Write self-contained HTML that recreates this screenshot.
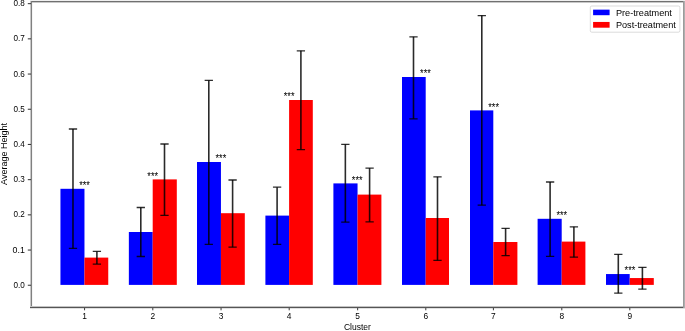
<!DOCTYPE html>
<html><head><meta charset="utf-8"><style>
html,body{margin:0;padding:0;background:#fff;overflow:hidden;}
svg{display:block;will-change:transform;}
text{font-family:"Liberation Sans", sans-serif;fill:#000;}
</style></head><body>
<svg width="685" height="331" viewBox="0 0 685 331">
<rect x="0" y="0" width="685" height="331" fill="#fff"/>
<rect x="60.45" y="188.80" width="24.02" height="96.10" fill="#0000ff"/>
<rect x="84.47" y="257.60" width="23.78" height="27.30" fill="#ff0000"/>
<rect x="128.85" y="232.00" width="23.85" height="52.90" fill="#0000ff"/>
<rect x="152.70" y="179.40" width="24.10" height="105.50" fill="#ff0000"/>
<rect x="197.00" y="162.00" width="23.95" height="122.90" fill="#0000ff"/>
<rect x="220.95" y="213.20" width="23.85" height="71.70" fill="#ff0000"/>
<rect x="265.40" y="215.60" width="23.70" height="69.30" fill="#0000ff"/>
<rect x="289.10" y="100.00" width="23.70" height="184.90" fill="#ff0000"/>
<rect x="333.40" y="183.40" width="24.15" height="101.50" fill="#0000ff"/>
<rect x="357.55" y="194.60" width="23.85" height="90.30" fill="#ff0000"/>
<rect x="402.00" y="77.00" width="23.70" height="207.90" fill="#0000ff"/>
<rect x="425.70" y="218.00" width="23.30" height="66.90" fill="#ff0000"/>
<rect x="470.00" y="110.40" width="23.30" height="174.50" fill="#0000ff"/>
<rect x="493.30" y="242.00" width="24.10" height="42.90" fill="#ff0000"/>
<rect x="537.60" y="218.80" width="24.10" height="66.10" fill="#0000ff"/>
<rect x="561.70" y="241.60" width="23.70" height="43.30" fill="#ff0000"/>
<rect x="606.00" y="274.05" width="23.70" height="10.85" fill="#0000ff"/>
<rect x="629.70" y="278.05" width="24.10" height="6.85" fill="#ff0000"/>
<path d="M72.98 129.00V248.40" stroke="#000" stroke-opacity="0.835" stroke-width="1.6" fill="none"/>
<path d="M68.83 129.00H77.13M68.83 248.40H77.13" stroke="#000" stroke-opacity="0.82" stroke-width="1.3" fill="none"/>
<path d="M96.90 251.40V264.10" stroke="#000" stroke-opacity="0.835" stroke-width="1.6" fill="none"/>
<path d="M92.75 251.40H101.05M92.75 264.10H101.05" stroke="#000" stroke-opacity="0.82" stroke-width="1.3" fill="none"/>
<path d="M140.80 207.50V256.50" stroke="#000" stroke-opacity="0.835" stroke-width="1.6" fill="none"/>
<path d="M136.65 207.50H144.95M136.65 256.50H144.95" stroke="#000" stroke-opacity="0.82" stroke-width="1.3" fill="none"/>
<path d="M164.50 144.00V215.30" stroke="#000" stroke-opacity="0.835" stroke-width="1.6" fill="none"/>
<path d="M160.35 144.00H168.65M160.35 215.30H168.65" stroke="#000" stroke-opacity="0.82" stroke-width="1.3" fill="none"/>
<path d="M208.80 80.40V244.40" stroke="#000" stroke-opacity="0.835" stroke-width="1.6" fill="none"/>
<path d="M204.65 80.40H212.95M204.65 244.40H212.95" stroke="#000" stroke-opacity="0.82" stroke-width="1.3" fill="none"/>
<path d="M232.60 180.00V247.20" stroke="#000" stroke-opacity="0.835" stroke-width="1.6" fill="none"/>
<path d="M228.45 180.00H236.75M228.45 247.20H236.75" stroke="#000" stroke-opacity="0.82" stroke-width="1.3" fill="none"/>
<path d="M277.10 187.20V244.40" stroke="#000" stroke-opacity="0.835" stroke-width="1.6" fill="none"/>
<path d="M272.95 187.20H281.25M272.95 244.40H281.25" stroke="#000" stroke-opacity="0.82" stroke-width="1.3" fill="none"/>
<path d="M300.90 50.80V149.60" stroke="#000" stroke-opacity="0.835" stroke-width="1.6" fill="none"/>
<path d="M296.75 50.80H305.05M296.75 149.60H305.05" stroke="#000" stroke-opacity="0.82" stroke-width="1.3" fill="none"/>
<path d="M345.35 144.40V222.10" stroke="#000" stroke-opacity="0.835" stroke-width="1.6" fill="none"/>
<path d="M341.20 144.40H349.50M341.20 222.10H349.50" stroke="#000" stroke-opacity="0.82" stroke-width="1.3" fill="none"/>
<path d="M369.60 168.10V221.80" stroke="#000" stroke-opacity="0.835" stroke-width="1.6" fill="none"/>
<path d="M365.45 168.10H373.75M365.45 221.80H373.75" stroke="#000" stroke-opacity="0.82" stroke-width="1.3" fill="none"/>
<path d="M413.50 36.80V118.80" stroke="#000" stroke-opacity="0.835" stroke-width="1.6" fill="none"/>
<path d="M409.35 36.80H417.65M409.35 118.80H417.65" stroke="#000" stroke-opacity="0.82" stroke-width="1.3" fill="none"/>
<path d="M437.50 176.80V260.40" stroke="#000" stroke-opacity="0.835" stroke-width="1.6" fill="none"/>
<path d="M433.35 176.80H441.65M433.35 260.40H441.65" stroke="#000" stroke-opacity="0.82" stroke-width="1.3" fill="none"/>
<path d="M481.80 15.60V205.20" stroke="#000" stroke-opacity="0.835" stroke-width="1.6" fill="none"/>
<path d="M477.65 15.60H485.95M477.65 205.20H485.95" stroke="#000" stroke-opacity="0.82" stroke-width="1.3" fill="none"/>
<path d="M505.60 228.40V255.60" stroke="#000" stroke-opacity="0.835" stroke-width="1.6" fill="none"/>
<path d="M501.45 228.40H509.75M501.45 255.60H509.75" stroke="#000" stroke-opacity="0.82" stroke-width="1.3" fill="none"/>
<path d="M550.10 182.00V256.40" stroke="#000" stroke-opacity="0.835" stroke-width="1.6" fill="none"/>
<path d="M545.95 182.00H554.25M545.95 256.40H554.25" stroke="#000" stroke-opacity="0.82" stroke-width="1.3" fill="none"/>
<path d="M573.90 226.80V257.20" stroke="#000" stroke-opacity="0.835" stroke-width="1.6" fill="none"/>
<path d="M569.75 226.80H578.05M569.75 257.20H578.05" stroke="#000" stroke-opacity="0.82" stroke-width="1.3" fill="none"/>
<path d="M618.30 254.40V293.20" stroke="#000" stroke-opacity="0.835" stroke-width="1.6" fill="none"/>
<path d="M614.15 254.40H622.45M614.15 293.20H622.45" stroke="#000" stroke-opacity="0.82" stroke-width="1.3" fill="none"/>
<path d="M642.40 267.40V289.20" stroke="#000" stroke-opacity="0.835" stroke-width="1.6" fill="none"/>
<path d="M638.25 267.40H646.55M638.25 289.20H646.55" stroke="#000" stroke-opacity="0.82" stroke-width="1.3" fill="none"/>
<text x="84.55" y="189" font-size="10.3" text-anchor="middle" textLength="10.8" lengthAdjust="spacingAndGlyphs">***</text>
<text x="152.73" y="180" font-size="10.3" text-anchor="middle" textLength="10.8" lengthAdjust="spacingAndGlyphs">***</text>
<text x="220.91" y="162" font-size="10.3" text-anchor="middle" textLength="10.8" lengthAdjust="spacingAndGlyphs">***</text>
<text x="289.09" y="100" font-size="10.3" text-anchor="middle" textLength="10.8" lengthAdjust="spacingAndGlyphs">***</text>
<text x="357.27" y="184" font-size="10.3" text-anchor="middle" textLength="10.8" lengthAdjust="spacingAndGlyphs">***</text>
<text x="425.45" y="77" font-size="10.3" text-anchor="middle" textLength="10.8" lengthAdjust="spacingAndGlyphs">***</text>
<text x="493.63" y="111" font-size="10.3" text-anchor="middle" textLength="10.8" lengthAdjust="spacingAndGlyphs">***</text>
<text x="561.81" y="219" font-size="10.3" text-anchor="middle" textLength="10.8" lengthAdjust="spacingAndGlyphs">***</text>
<text x="629.99" y="274" font-size="10.3" text-anchor="middle" textLength="10.8" lengthAdjust="spacingAndGlyphs">***</text>
<rect x="30" y="0" width="655" height="1" fill="rgb(240,240,240)"/>
<rect x="30" y="1" width="655" height="1" fill="rgb(112,112,112)"/>
<rect x="30" y="2" width="653" height="1" fill="rgb(200,200,200)"/>
<rect x="30" y="1" width="1" height="307" fill="rgb(200,200,200)"/>
<rect x="31" y="1" width="1" height="307" fill="rgb(128,128,128)"/>
<rect x="32" y="3" width="1" height="303" fill="rgb(245,245,245)"/>
<rect x="30" y="306" width="655" height="1" fill="rgb(195,195,195)"/>
<rect x="30" y="307" width="655" height="1" fill="rgb(85,85,85)"/>
<rect x="30" y="308" width="655" height="1" fill="rgb(225,225,225)"/>
<rect x="683" y="1" width="1" height="307" fill="rgb(155,155,155)"/>
<rect x="684" y="1" width="1" height="307" fill="rgb(175,175,175)"/>
<line x1="27.8" y1="285.25" x2="31" y2="285.25" stroke="#383838" stroke-width="1.05"/>
<text x="24.85" y="287.85" font-size="8.37" text-anchor="end" textLength="11.3" lengthAdjust="spacingAndGlyphs">0.0</text>
<line x1="27.8" y1="250.05" x2="31" y2="250.05" stroke="#383838" stroke-width="1.05"/>
<text x="24.85" y="252.65" font-size="8.37" text-anchor="end" textLength="12.3" lengthAdjust="spacingAndGlyphs">0.1</text>
<line x1="27.8" y1="214.85" x2="31" y2="214.85" stroke="#383838" stroke-width="1.05"/>
<text x="24.85" y="217.45" font-size="8.37" text-anchor="end" textLength="11.3" lengthAdjust="spacingAndGlyphs">0.2</text>
<line x1="27.8" y1="179.65" x2="31" y2="179.65" stroke="#383838" stroke-width="1.05"/>
<text x="24.85" y="182.25" font-size="8.37" text-anchor="end" textLength="11.3" lengthAdjust="spacingAndGlyphs">0.3</text>
<line x1="27.8" y1="144.45" x2="31" y2="144.45" stroke="#383838" stroke-width="1.05"/>
<text x="24.85" y="147.05" font-size="8.37" text-anchor="end" textLength="11.3" lengthAdjust="spacingAndGlyphs">0.4</text>
<line x1="27.8" y1="109.25" x2="31" y2="109.25" stroke="#383838" stroke-width="1.05"/>
<text x="24.85" y="111.85" font-size="8.37" text-anchor="end" textLength="11.3" lengthAdjust="spacingAndGlyphs">0.5</text>
<line x1="27.8" y1="74.05" x2="31" y2="74.05" stroke="#383838" stroke-width="1.05"/>
<text x="24.85" y="76.65" font-size="8.37" text-anchor="end" textLength="11.3" lengthAdjust="spacingAndGlyphs">0.6</text>
<line x1="27.8" y1="38.85" x2="31" y2="38.85" stroke="#383838" stroke-width="1.05"/>
<text x="24.85" y="41.45" font-size="8.37" text-anchor="end" textLength="11.3" lengthAdjust="spacingAndGlyphs">0.7</text>
<line x1="27.8" y1="3.65" x2="31" y2="3.65" stroke="#383838" stroke-width="1.05"/>
<text x="24.85" y="6.25" font-size="8.37" text-anchor="end" textLength="11.3" lengthAdjust="spacingAndGlyphs">0.8</text>
<line x1="84.57" y1="308" x2="84.57" y2="310.3" stroke="#3c3c3c" stroke-width="1.0"/>
<text x="84.57" y="318.9" font-size="8.37" text-anchor="middle">1</text>
<line x1="152.80" y1="308" x2="152.80" y2="310.3" stroke="#3c3c3c" stroke-width="1.0"/>
<text x="152.80" y="318.9" font-size="8.37" text-anchor="middle">2</text>
<line x1="221.05" y1="308" x2="221.05" y2="310.3" stroke="#3c3c3c" stroke-width="1.0"/>
<text x="221.05" y="318.9" font-size="8.37" text-anchor="middle">3</text>
<line x1="289.20" y1="308" x2="289.20" y2="310.3" stroke="#3c3c3c" stroke-width="1.0"/>
<text x="289.20" y="318.9" font-size="8.37" text-anchor="middle">4</text>
<line x1="357.65" y1="308" x2="357.65" y2="310.3" stroke="#3c3c3c" stroke-width="1.0"/>
<text x="357.65" y="318.9" font-size="8.37" text-anchor="middle">5</text>
<line x1="425.80" y1="308" x2="425.80" y2="310.3" stroke="#3c3c3c" stroke-width="1.0"/>
<text x="425.80" y="318.9" font-size="8.37" text-anchor="middle">6</text>
<line x1="493.40" y1="308" x2="493.40" y2="310.3" stroke="#3c3c3c" stroke-width="1.0"/>
<text x="493.40" y="318.9" font-size="8.37" text-anchor="middle">7</text>
<line x1="561.80" y1="308" x2="561.80" y2="310.3" stroke="#3c3c3c" stroke-width="1.0"/>
<text x="561.80" y="318.9" font-size="8.37" text-anchor="middle">8</text>
<line x1="629.80" y1="308" x2="629.80" y2="310.3" stroke="#3c3c3c" stroke-width="1.0"/>
<text x="629.80" y="318.9" font-size="8.37" text-anchor="middle">9</text>
<text x="357.4" y="329.9" font-size="8.37" text-anchor="middle" textLength="27.0" lengthAdjust="spacingAndGlyphs">Cluster</text>
<text transform="translate(6.6,154) rotate(-90)" x="0" y="0" font-size="8.37" text-anchor="middle" textLength="61.8" lengthAdjust="spacingAndGlyphs">Average Height</text>
<rect x="590.3" y="6.0" width="89.6" height="26.2" rx="1.5" fill="#fff" fill-opacity="0.8" stroke="#cfcfcf" stroke-width="0.75"/>
<rect x="593.1" y="9.65" width="16.5" height="5.55" fill="#0000ff"/>
<rect x="593.1" y="21.95" width="16.5" height="5.75" fill="#ff0000"/>
<text x="615.9" y="15.7" font-size="8.37" textLength="56.0" lengthAdjust="spacingAndGlyphs">Pre-treatment</text>
<text x="615.9" y="27.5" font-size="8.37" textLength="59.9" lengthAdjust="spacingAndGlyphs">Post-treatment</text>
</svg>
</body></html>
